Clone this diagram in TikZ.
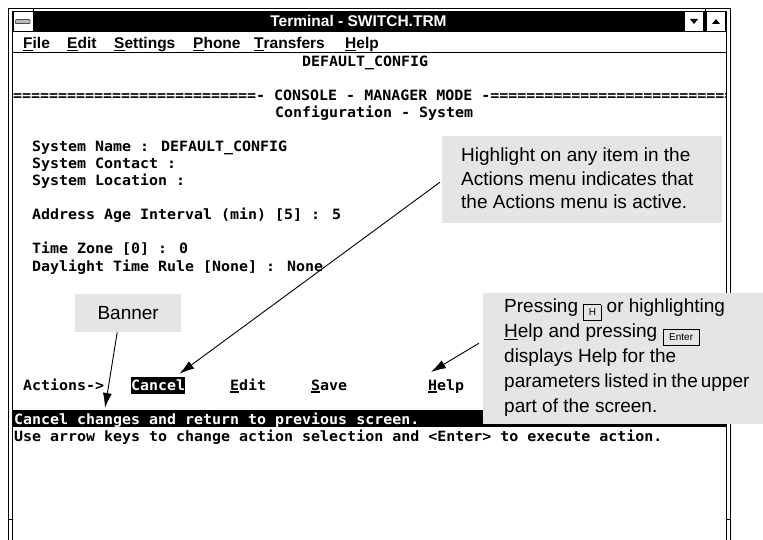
\documentclass[tikz,border=0pt]{standalone}
\usepackage{fontspec}
\setmainfont{Liberation Sans}
\newfontfamily\termfont[FakeStretch=1.053]{DejaVu Sans Mono}
\usetikzlibrary{arrows.meta}
\newcommand\keycap[2]{\raisebox{-3pt}{\setlength{\fboxsep}{1.2pt}\setlength{\fboxrule}{0.8pt}\fbox{\makebox[#1]{\fontsize{10}{10}\selectfont\rule[-3pt]{0pt}{12.5pt}#2}}}}
\newcommand\tul[1]{\rlap{\rule[-2.5pt]{9pt}{1.3pt}}#1}
\begin{document}
\begin{tikzpicture}[x=1pt,y=-1pt,
  term/.style={font=\termfont\bfseries\fontsize{14.2}{15}\selectfont, inner sep=0, anchor=base west},
  menu/.style={font=\bfseries\fontsize{15.5}{16}\selectfont, inner sep=0, anchor=base west},
  callbox/.style={fill=gray!20, draw=none, inner sep=0, anchor=north west},
  calltext/.style={font=\fontsize{19}{23.5}\selectfont, align=left, inner sep=0, anchor=north west},
  btn/.style={draw=black, fill=white, minimum width=19, minimum height=20, anchor=north west, inner sep=0},
  pointer/.style={-{Latex[length=15pt,width=9pt]}, line width=0.9pt},
  frame/.style={line width=0.9pt}]
\useasboundingbox (0,0) rectangle (763,540);
\fill[white] (0,0) rectangle (763,540);

% window frame
\draw[frame] (8,545) -- (8,8) -- (730,8) -- (730,545);
\draw[frame] (12,545) -- (12,11) -- (726,11) -- (726,545);
\draw (8,519) -- (12,519) (726,519) -- (730,519);

% title bar
\fill[black] (12,11) rectangle (726,32);
\draw (33,8) -- (33,32) (705,8) -- (705,32);
\node[btn, minimum width=20] (sysbtn) at (12.5,11.5) {};
\node[draw=black, fill=gray!55, rounded corners=1pt, minimum width=15, minimum height=4, inner sep=0] (sysbar) at (sysbtn.center) {};
\node[btn] (downbtn) at (684,11.5) {};
\node[btn] (upbtn) at (706,11.5) {};
\fill (690,19) -- (698,19) -- (694,24) -- cycle;
\fill (712,24) -- (720,24) -- (716,19) -- cycle;
\node[menu, text=white, anchor=base] (title) at (358.5,27) {Terminal - SWITCH.TRM};

% menu bar
\draw[line width=1pt] (12,53) -- (726,53);
\node[menu] (mfile) at (23,48.5) {\underline{F}ile};
\node[menu] (medit) at (67,48.5) {\underline{E}dit};
\node[menu] (mset) at (114,48.5) {\underline{S}ettings};
\node[menu] (mphone) at (193,48.5) {\underline{P}hone};
\node[menu] (mtrans) at (254,48.5) {\underline{T}ransfers};
\node[menu] (mhelp) at (345,48.5) {\underline{H}elp};

% terminal text (rows 17px apart, columns 9px apart)
\node[term] (r0) at (302,67) {DEFAULT\_CONFIG};
\begin{scope}
\clip (12,80) rectangle (726,110);
\node[term] (r2) at (13,101) {===========================- CONSOLE - MANAGER MODE -============================};
\end{scope}
\node[term] (r3) at (275,118) {Configuration - System};
\node[term] (r5) at (32,152) {System Name : DEFAULT\_CONFIG};
\node[term] (r6) at (32,169) {System Contact :};
\node[term] (r7) at (32,186) {System Location :};
\node[term] (r9) at (32,220) {Address Age Interval (min) [5] : 5};
\node[term] (r11) at (32,254) {Time Zone [0] : 0};
\node[term] (r12) at (32,271) {Daylight Time Rule [None] : None};

\node[term] (actions) at (23,390) {Actions->};
\node[term, fill=black, text=white, text height=13.5pt, text depth=3.5pt] (cancel) at (131,390) {Cancel\ };
\node[term] (edit) at (230,390) {\tul{E}dit};
\node[term] (save) at (311,390) {\tul{S}ave};
\node[term] (help) at (428,390) {\tul{H}elp};

\node[fill=black, minimum width=714, minimum height=17, anchor=north west, inner sep=0] (bar) at (12,410) {};
\node[term, text=white] (bartext) at (14,424) {Cancel changes and return to previous screen.};
\node[term] (userow) at (14,441) {Use arrow keys to change action selection and <Enter> to execute action.};

% callouts
\node[callbox, minimum width=280, minimum height=87] (hbox) at (442,136) {};
\node[calltext] (htext) at (461,148) {Highlight on any item in the\\Actions menu indicates that\\the Actions menu is active.};

\node[callbox, minimum width=106, minimum height=38, font=\fontsize{19}{20}\selectfont] (banner) at (75,294) {Banner};

\node[callbox, minimum width=290, minimum height=131] (pbox) at (483,293) {};
\node[calltext, font=\fontsize{19}{25}\selectfont] (ptext) at (504,299) {Pressing \keycap{14pt}{H} or highlighting\\\underline{H}elp and pressing \keycap{33pt}{Enter}\\displays Help for the\\parameters\hspace{4pt}listed\hspace{4pt}in\hspace{4pt}the\hspace{3pt}upper\\part of the screen.};

% pointers
\coordinate (bannertip) at (105,408);
\coordinate (helptip) at (431,372);
\draw[pointer] ([xshift=-2pt,yshift=-2.5pt]hbox.west) -- ([xshift=-6pt,yshift=2.5pt]cancel.north east);
\draw[pointer] ([xshift=-11pt]banner.south) -- (bannertip);
\draw[pointer] ([xshift=-4pt,yshift=15.5pt]pbox.west) -- (helptip);
\end{tikzpicture}
\end{document}
